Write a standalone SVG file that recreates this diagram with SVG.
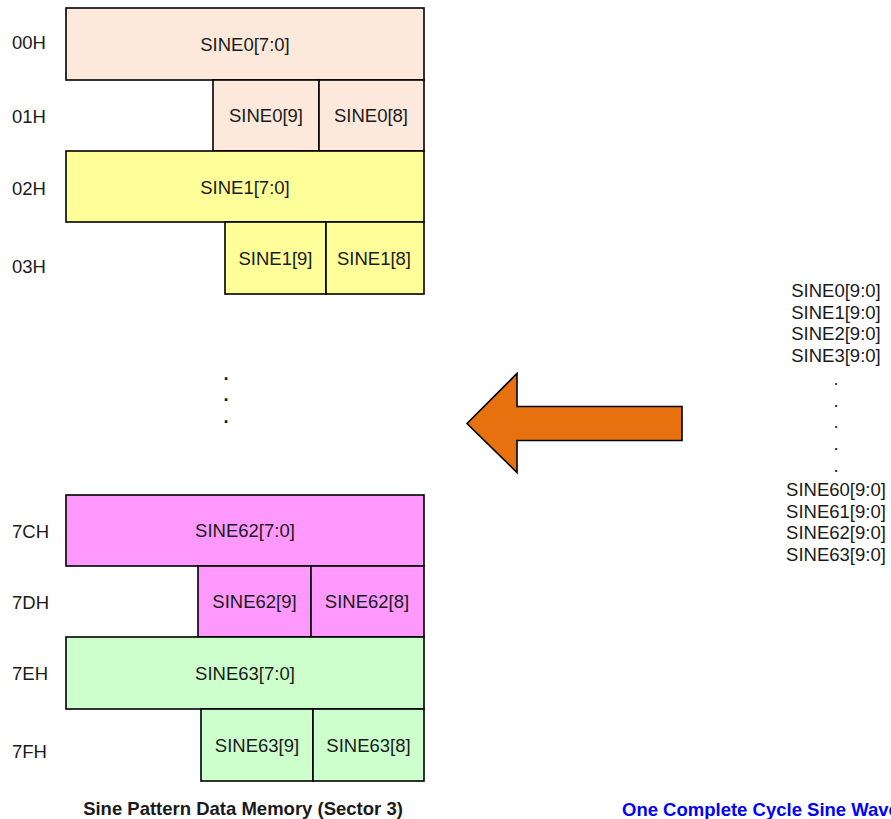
<svg xmlns="http://www.w3.org/2000/svg" width="891" height="819" viewBox="0 0 891 819">
<style>
text{font-family:"Liberation Sans",Arial,sans-serif;font-size:18.5px;fill:#1a1a1a}
.c{text-anchor:middle}
.b{stroke:#000;stroke-width:1.6}
.p{fill:#FCE9DC}.y{fill:#FFFF99}.m{fill:#FF99FF}.g{fill:#CCFFCC}
.bold{font-weight:bold}
</style>
<rect width="891" height="819" fill="#fff"/>
<g id="labels">
<text x="12" y="49">00H</text>
<text x="12" y="123">01H</text>
<text x="12" y="195">02H</text>
<text x="12" y="273">03H</text>
<text x="12" y="538">7CH</text>
<text x="12" y="609">7DH</text>
<text x="12" y="680">7EH</text>
<text x="12" y="758">7FH</text>
</g>
<g id="row00"><rect class="b p" x="66" y="8" width="358" height="72"/><text class="c" x="245" y="51">SINE0[7:0]</text></g>
<g id="row01a"><rect class="b p" x="213" y="80" width="106" height="71"/><text class="c" x="266" y="122">SINE0[9]</text></g>
<g id="row01b"><rect class="b p" x="319" y="80" width="105" height="71"/><text class="c" x="371" y="122">SINE0[8]</text></g>
<g id="row02"><rect class="b y" x="66" y="151" width="358" height="71"/><text class="c" x="245" y="194">SINE1[7:0]</text></g>
<g id="row03a"><rect class="b y" x="225" y="222" width="101" height="72"/><text class="c" x="275.5" y="265">SINE1[9]</text></g>
<g id="row03b"><rect class="b y" x="326" y="222" width="98" height="72"/><text class="c" x="374" y="265">SINE1[8]</text></g>
<g id="ellipsis">
<text class="c bold" x="226" y="380">.</text>
<text class="c bold" x="226" y="401">.</text>
<text class="c bold" x="226" y="423">.</text>
</g>
<g id="row7C"><rect class="b m" x="66" y="495" width="358" height="71"/><text class="c" x="245" y="537">SINE62[7:0]</text></g>
<g id="row7Da"><rect class="b m" x="198" y="566" width="113" height="71"/><text class="c" x="254.5" y="608">SINE62[9]</text></g>
<g id="row7Db"><rect class="b m" x="311" y="566" width="113" height="71"/><text class="c" x="367" y="608">SINE62[8]</text></g>
<g id="row7E"><rect class="b g" x="66" y="637" width="358" height="72"/><text class="c" x="245" y="680">SINE63[7:0]</text></g>
<g id="row7Fa"><rect class="b g" x="201" y="709" width="112" height="72"/><text class="c" x="257" y="752">SINE63[9]</text></g>
<g id="row7Fb"><rect class="b g" x="313" y="709" width="111" height="72"/><text class="c" x="368.5" y="752">SINE63[8]</text></g>
<g id="connectors">
<polygon points="467,423.5 517,373.5 517,406.5 682,406.5 682,440.5 517,440.5 517,472.5" fill="#E8710F" stroke="#000" stroke-width="1.6"/>
</g>
<g id="sinelist">
<text class="c" x="836" y="297">SINE0[9:0]</text>
<text class="c" x="836" y="318.5">SINE1[9:0]</text>
<text class="c" x="836" y="340">SINE2[9:0]</text>
<text class="c" x="836" y="361.5">SINE3[9:0]</text>
<text class="c" x="836" y="385">.</text>
<text class="c" x="836" y="406.5">.</text>
<text class="c" x="836" y="428">.</text>
<text class="c" x="836" y="450">.</text>
<text class="c" x="836" y="472">.</text>
<text class="c" x="836" y="496">SINE60[9:0]</text>
<text class="c" x="836" y="517.5">SINE61[9:0]</text>
<text class="c" x="836" y="539">SINE62[9:0]</text>
<text class="c" x="836" y="561">SINE63[9:0]</text>
</g>
<g id="captions">
<text class="c bold" x="243" y="815">Sine Pattern Data Memory (Sector 3)</text>
<text class="bold" x="622" y="816" style="fill:#0000FF">One Complete Cycle Sine Wave</text>
</g>
</svg>
